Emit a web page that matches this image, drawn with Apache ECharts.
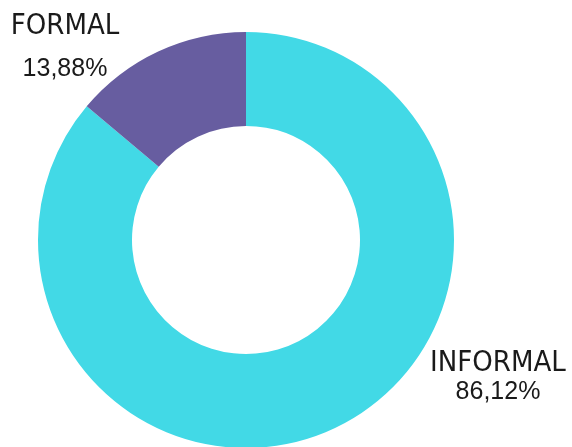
<!DOCTYPE html>
<html>
<head>
<meta charset="utf-8">
<script src="https://cdn.jsdelivr.net/npm/echarts@6/dist/echarts.min.js"></script>
<style>
html,body{margin:0;padding:0;background:#fff;}
#chart{width:572px;height:447px;}
</style>
</head>
<body>
<div id="chart"></div>
<script>
var categories = ['INFORMAL', 'FORMAL'];
var values = [86.12, 13.88];
var valueLabels = ['86,12%', '13,88%'];
var colors = ['#42D9E6', '#675DA0'];
var labelCenters = [[498, 363, 392], [65, 26, 69]];

var chart = echarts.init(document.getElementById('chart'), null, {renderer: 'canvas'});
var graphics = [];
categories.forEach(function (c, i) {
  var p = labelCenters[i];
  graphics.push({
    type: 'text', x: p[0], y: p[1],
    style: {text: c, x: 0, y: 0, textAlign: 'center', textVerticalAlign: 'middle',
      font: '29px "Liberation Sans Narrow", "DejaVu Sans Condensed", sans-serif', fill: '#1a1a1a'}
  });
  graphics.push({
    type: 'text', x: p[0], y: p[2],
    style: {text: valueLabels[i], x: 0, y: 0, textAlign: 'center', textVerticalAlign: 'middle',
      font: '25px "Liberation Sans", sans-serif', fill: '#1a1a1a'}
  });
});

chart.setOption({
  animation: false,
  series: [{
    type: 'pie',
    center: [246, 240],
    radius: [114, 208],
    startAngle: 90,
    clockwise: true,
    label: {show: false},
    labelLine: {show: false},
    emphasis: {disabled: true},
    data: categories.map(function (c, i) {
      return {name: c, value: values[i], itemStyle: {color: colors[i]}};
    })
  }],
  graphic: graphics
});
</script>
</body>
</html>
